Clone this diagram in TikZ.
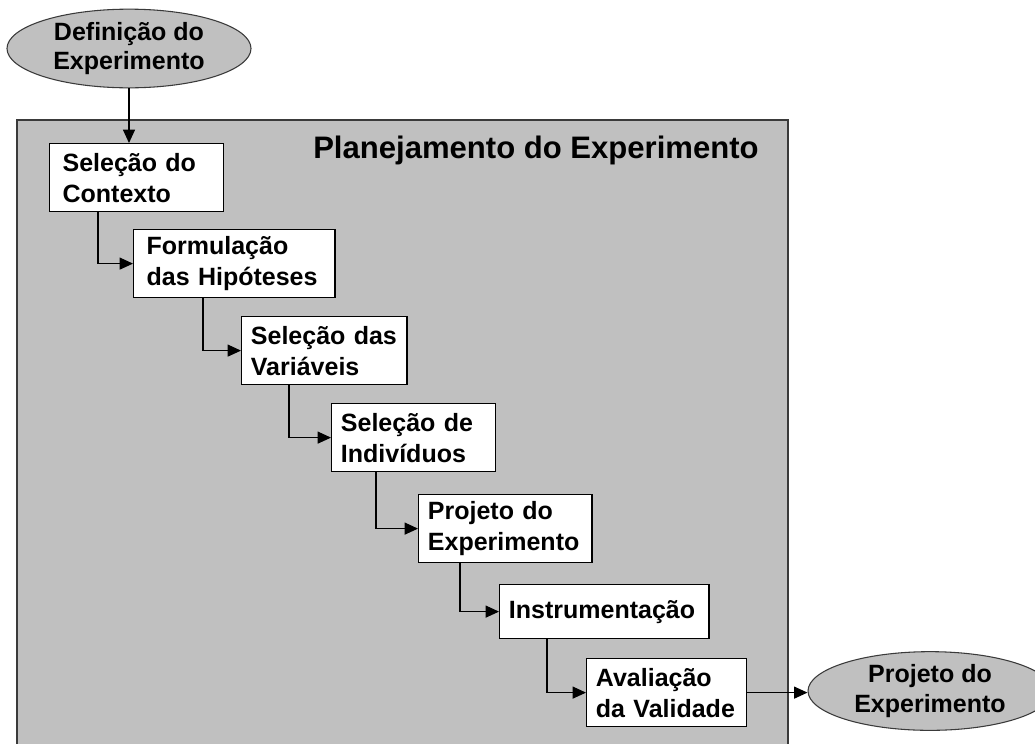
\documentclass[tikz,border=0pt]{standalone}
\usepackage{fontspec}
\setmainfont{Liberation Sans}
\usepackage{tikz}
\usetikzlibrary{arrows.meta,calc,positioning,shapes.geometric}
\definecolor{pcinza}{HTML}{C0C0C0}
\definecolor{pborda}{HTML}{3A3A3A}
\tikzset{
  >={Triangle[length=10pt,width=9pt]},
  pquadro/.style={fill=pcinza, draw=pborda, line width=1pt},
  petapa/.style={rectangle, draw=black, fill=white, line width=0.9pt,
                 anchor=north west, align=left, inner xsep=7pt, inner ysep=0pt,
                 minimum height=51pt, font=\bfseries\fontsize{18.75}{23.25}\selectfont},
  pmeta/.style={ellipse, draw=pborda, fill=pcinza, line width=0.8pt,
                minimum width=183pt, minimum height=59pt, inner sep=0pt,
                align=center, font=\bfseries\fontsize{18.75}{22}\selectfont},
  ptitulo/.style={anchor=base west, inner sep=0pt,
                  font=\bfseries\fontsize{23.3}{28}\selectfont},
  pseta/.style={->, line width=0.8pt},
}
\begin{document}
\begin{tikzpicture}[x=0.75pt,y=-0.75pt]
  \useasboundingbox (0,0) rectangle (1035,743);

  % quadro do planejamento
  \draw[pquadro] (17,120) rectangle (788,750);
  \node[ptitulo] (titulo) at (313,158) {Planejamento do Experimento};

  % entrada e saida
  \node[pmeta] (def) at (129,48.5) {Definição do\\Experimento};
  \node[pmeta] (proj) at (930,691) {Projeto do\\Experimento};

  % etapas
  \node[petapa, inner xsep=9.75pt, text width=111pt] (ctx) at (49,143) {Seleção do\\Contexto};
  \node[petapa, inner xsep=9.75pt, text width=131.5pt] (hip) at (133,229) {Formulação\\das Hipóteses};
  \node[petapa, text width=110pt] (var) at (241,316) {Seleção das\\Variáveis};
  \node[petapa, text width=109pt] (ind) at (331,403) {Seleção de\\Indivíduos};
  \node[petapa, text width=116pt] (prj) at (418,494) {Projeto do\\Experimento};
  \node[petapa, text width=143pt, minimum height=40.5pt] (ins) at (499,584) {Instrumentação};
  \node[petapa, text width=106pt] (ava) at (586,658) {Avaliação\\da Validade};

  % ligacoes
  \draw[pseta] (def.south) -- (def.south |- ctx.north);
  \foreach \a/\b/\d in {ctx/hip/49, hip/var/70, var/ind/48, ind/prj/45, prj/ins/42, ins/ava/48}
    \draw[pseta] ($(\a.south west)+(\d,0)$) |- (\b.west);
  \draw[pseta] (ava.east) -- (ava.east -| proj.west);

\end{tikzpicture}
\end{document}
